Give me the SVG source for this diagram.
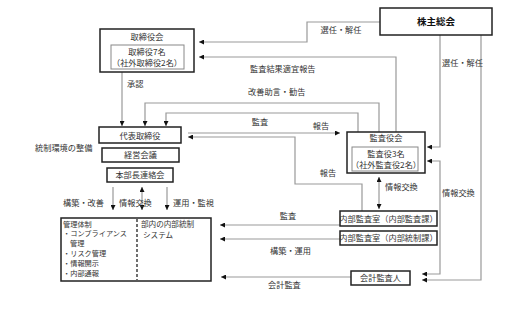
<svg xmlns="http://www.w3.org/2000/svg" width="508" height="313" viewBox="0 0 508 313">
<style>
text{font-family:"Noto Sans CJK JP","Noto Sans",sans-serif;font-size:8.2px;fill:#333}
.c{text-anchor:middle}
.b{font-weight:bold;font-size:9.5px;fill:#111}
.s{font-size:7.2px}
.m{font-size:7.6px}
.box{fill:#fff;stroke:#222;stroke-width:1.5}
.in{fill:#fff;stroke:#888;stroke-width:1}
.ln{fill:none;stroke:#999;stroke-width:1.2}
.ln path{marker-end:url(#ah)}
</style>
<defs>
<marker id="ah" markerUnits="userSpaceOnUse" viewBox="0 0 5 5" refX="5" refY="2.5" markerWidth="5" markerHeight="5" orient="auto-start-reverse">
<path d="M0,0 L5,2.5 L0,5 z" fill="#111"/>
</marker>
</defs>
<rect width="508" height="313" fill="#fff"/>
<g id="connectors" class="ln">
<path d="M380,22 H307 V42 H199"/>
<path d="M396,132 V57 H199"/>
<path d="M379,132 V103 H145 V126"/>
<path d="M358,132 V113 H166 V126"/>
<path d="M122,72 V126"/>
<path d="M188,133 H340"/>
<path d="M362,211 V184 H295 V137 H188"/>
<path d="M440,35 V147 H427"/>
<path d="M427,161 H440 V274 H422" marker-start="url(#ah)"/>
<path d="M481,35 V280 H422"/>
<path d="M379,177 V209" marker-start="url(#ah)"/>
<path d="M340,225 H220"/>
<path d="M340,239 H220"/>
<path d="M351,277 H221"/>
<path d="M113,187 V210"/>
<path d="M142,187 V210" marker-start="url(#ah)"/>
<path d="M167,187 V210"/>
</g>
<g id="labels">
<text x="341" y="33" class="c">選任・解任</text>
<text x="250" y="72">監査結果適宜報告</text>
<text x="248" y="95">改善助言・勧告</text>
<text x="127" y="87">承認</text>
<text x="260" y="125" class="c">監査</text>
<text x="321" y="129" class="c">報告</text>
<text x="442" y="66">選任・解任</text>
<text x="35" y="151">統制環境の整備</text>
<text x="328" y="176" class="c">報告</text>
<text x="385" y="190">情報交換</text>
<text x="442" y="196">情報交換</text>
<text x="63" y="206">構築・改善</text>
<text x="119" y="206">情報交換</text>
<text x="173" y="206">運用・監視</text>
<text x="288" y="219" class="c">監査</text>
<text x="270" y="254">構築・運用</text>
<text x="268" y="288">会計監査</text>
</g>
<g id="board">
<rect x="100" y="29" width="94" height="43" class="box"/>
<rect x="111" y="45" width="73" height="24" class="in"/>
<text x="147" y="40" class="c">取締役会</text>
<text x="147" y="55" class="c">取締役7名</text>
<text x="147" y="66" class="c">（社外取締役2名）</text>
</g>
<g id="shareholders">
<rect x="380" y="8" width="112" height="27" class="box"/>
<text x="436" y="25" class="c b">株主総会</text>
</g>
<g id="auditors">
<rect x="347" y="132" width="78" height="41" class="box"/>
<rect x="352" y="147" width="66" height="24" class="in"/>
<text x="386" y="141" class="c">監査役会</text>
<text x="386" y="157" class="c">監査役3名</text>
<text x="386" y="168" class="c">（社外監査役2名）</text>
</g>
<g id="ceo">
<rect x="99" y="127" width="82" height="16" class="box"/>
<text x="140" y="138.5" class="c">代表取締役</text>
</g>
<g id="mgmt-meeting">
<rect x="102" y="148" width="77" height="14" class="box"/>
<text x="140.5" y="158" class="c">経営会議</text>
</g>
<g id="hq-meeting">
<rect x="107" y="168" width="66" height="14" class="box"/>
<text x="140" y="178" class="c">本部長連絡会</text>
</g>
<g id="management">
<rect x="61" y="218" width="150" height="63" class="box"/>
<line x1="137" y1="219" x2="137" y2="280" stroke="#222" stroke-width="1.3" stroke-dasharray="3,2"/>
<text x="63" y="226.5" class="s">管理体制</text>
<text x="63" y="236.3" class="s">・コンプライアンス</text>
<text x="70" y="246.1" class="s">管理</text>
<text x="63" y="255.9" class="s">・リスク管理</text>
<text x="63" y="265.7" class="s">・情報開示</text>
<text x="63" y="275.5" class="s">・内部通報</text>
<text x="141" y="226.5" class="m">部内の内部統制</text>
<text x="143" y="237.8" class="m">システム</text>
</g>
<g id="internal-audit">
<rect x="340" y="211" width="97" height="15" class="box"/>
<text x="388.5" y="221.5" class="c">内部監査室（内部監査課）</text>
</g>
<g id="internal-control">
<rect x="340" y="231" width="97" height="14" class="box"/>
<text x="388.5" y="241" class="c">内部監査室（内部統制課）</text>
</g>
<g id="accounting-auditor">
<rect x="351" y="271" width="59" height="14" class="box"/>
<text x="380.5" y="281" class="c">会計監査人</text>
</g>
</svg>
